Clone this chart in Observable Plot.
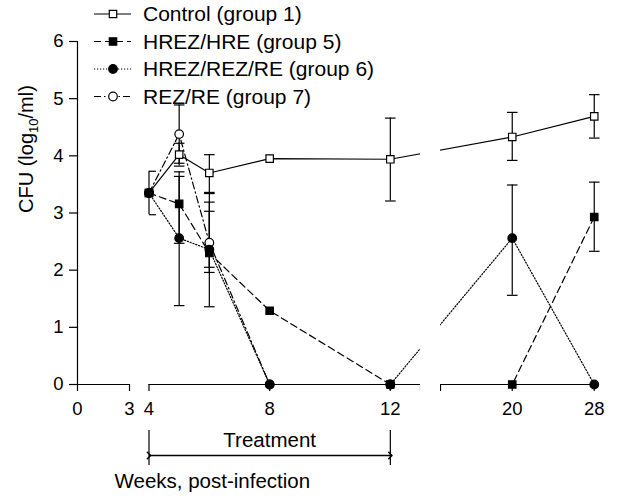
<!DOCTYPE html>
<html><head><meta charset="utf-8">
<script src="https://cdn.jsdelivr.net/npm/d3@7"></script>
<script src="https://cdn.jsdelivr.net/npm/@observablehq/plot@0.6"></script>
<style>
body{margin:0;background:#fff;}
#chart{position:relative;width:617px;height:503px;font-family:"Liberation Sans",Arial,Helvetica,sans-serif;}
#legend{position:absolute;left:0;top:0;}
</style></head><body><div id="chart"></div>
<script>
// ---- data ----
const weeks = [4, 5, 6, 8, 12, 20, 28];
const seriesNames = ["Control (group 1)", "HREZ/HRE (group 5)", "HREZ/REZ/RE (group 6)", "REZ/RE (group 7)"];
const controlMean = [3.35, 4.02, 3.70, 3.95, 3.94, 4.33, 4.69];
const controlLow  = [2.97, 3.82, 3.34, null, 3.21, 3.92, 4.31];
const controlHigh = [3.73, 4.22, 4.02, null, 4.66, 4.76, 5.07];
const group5Mean = [3.35, 3.16, 2.30, 1.29, 0, 0, 2.93];
const group5Low  = [null, 2.47, 2.05, null, null, null, 2.33];
const group5High = [null, 3.64, 3.19, null, null, null, 3.54];
const group6Mean = [3.35, 2.56, 2.36, 0, 0, 2.56, 0];
const group6Low  = [null, 1.38, 1.36, null, null, 1.56, null];
const group6High = [null, 3.72, 3.36, null, null, 3.49, null];
const group7Mean = [3.35, 4.38, 2.48, 0, 0];
const group7Low  = [null, 3.87, 1.96, null, null];
const group7High = [null, 4.89, 3.03, null, null];
const xTickWeeks = [0, 3, 4, 8, 12, 20, 28];
const yTicks = [0, 1, 2, 3, 4, 5, 6];
const treatment = [{start: 4, end: 12, label: "Treatment"}];
const xTitle = "Weeks, post-infection";
const yTitle = ["CFU (log", "10", "/ml)"];

// ---- broken x axis (weeks -> axis units) ----
const breakWeeks = [0, 3, 4, 13, 13.001, 29];
const breakUnits = [0, 52, 71.5, 343, 363, 527];
const bx = d3.scaleLinear().domain(breakWeeks).range(breakUnits);
const axisSegments = [[0, 3], [4, 13], [13.001, 28]];
const gap = [13, 13.001];

// ---- styles ----
const FONT = '"Liberation Sans", Arial, Helvetica, sans-serif';
const series = [
  {name: seriesNames[0], mean: controlMean, low: controlLow, high: controlHigh, dash: null, symbol: "square", fill: "white"},
  {name: seriesNames[1], mean: group5Mean, low: group5Low, high: group5High, dash: "7,4", symbol: "square", fill: "black"},
  {name: seriesNames[2], mean: group6Mean, low: group6Low, high: group6High, dash: "1.2,1.8", symbol: "circle", fill: "black"},
  {name: seriesNames[3], mean: group7Mean, low: group7Low, high: group7High, dash: "7,3,1.5,3", symbol: "circle", fill: "white"}
];
const markerOrder = [0, 3, 1, 2];

const rows = [];
series.forEach((s, si) => s.mean.forEach((v, i) => rows.push({si, week: weeks[i], x: bx(weeks[i]), y: v, lo: s.low[i], hi: s.high[i]})));
const errRows = rows.filter(d => d.lo != null);

const capSymbol = {draw(ctx, size) { const w = Math.sqrt(size / Math.PI); ctx.moveTo(-w, 0); ctx.lineTo(w, 0); }};
const halfCapSymbol = {draw(ctx, size) { const w = Math.sqrt(size / Math.PI); ctx.moveTo(0, 0); ctx.lineTo(w, 0); }};
const caps = errRows.flatMap(d => [{x: d.x, y: d.lo, week: d.week}, {x: d.x, y: d.hi, week: d.week}]);

const labelAt = new Map(xTickWeeks.map(w => [bx(w), String(w)]));

const marks = [
  Plot.ruleY(axisSegments, {x1: d => bx(d[0]), x2: d => bx(d[1]), y: 0, stroke: "black", strokeWidth: 1.2}),
  Plot.ruleX([0], {x: d => bx(d), y1: 0, y2: 6, stroke: "black", strokeWidth: 1.2}),
  Plot.axisY({ticks: yTicks, tickFormat: d3.format("d"), tickSize: 8, tickPadding: 6, label: null, strokeWidth: 1.2}),
  Plot.axisX({ticks: xTickWeeks.map(bx).concat(gap.map(bx)), tickFormat: v => labelAt.get(v) ?? "", tickSize: 7, tickPadding: 10, label: null, strokeWidth: 1.2}),
  Plot.ruleX(errRows, {x: "x", y1: "lo", y2: "hi", stroke: "black", strokeWidth: 1.2}),
  Plot.dot(caps.filter(d => d.week !== 4), {x: "x", y: "y", r: 5.3, symbol: capSymbol, fill: "none", stroke: "black", strokeWidth: 1.2}),
  Plot.dot(caps.filter(d => d.week === 4), {x: "x", y: "y", r: 7, symbol: halfCapSymbol, fill: "none", stroke: "black", strokeWidth: 1.2}),
  ...series.map((s, si) => Plot.line(rows.filter(d => d.si === si), {x: "x", y: "y", stroke: "black", strokeWidth: 1.2, strokeDasharray: s.dash})),
  Plot.rect([gap], {x1: d => bx(d[0]), x2: d => bx(d[1]), y1: 0, y2: 4.35, insetBottom: -9, fill: "white"}),
  ...markerOrder.map(si => Plot.dot(rows.filter(d => d.si === si), {x: "x", y: "y", r: series[si].symbol === "square" ? 4.2 : 4.3, symbol: series[si].symbol, fill: series[si].fill, stroke: "black", strokeWidth: 1.2})),
  Plot.ruleX(treatment.flatMap(t => [t.start, t.end]), {x: d => bx(d), insetTop: 389, insetBottom: -81, stroke: "black", strokeWidth: 1.2}),
  Plot.link(treatment, {x1: d => bx(d.start), x2: d => bx(d.end), y1: 0, y2: 0, dy: 71, stroke: "black", strokeWidth: 1.6, markerStart: "arrow", markerEnd: "arrow"}),
  Plot.text(treatment, {x: d => bx((d.start + d.end) / 2), y: 0, dy: 56, text: "label", fontSize: 20.5, fill: "black"}),
  Plot.text([xTitle], {frameAnchor: "bottom-left", dx: 37, dy: 103, text: d => d, textAnchor: "start", fontSize: 20.5, fill: "black"}),
  Plot.text([yTitle.join("")], {frameAnchor: "left", dx: -51, rotate: -90, text: d => d, fontSize: 20, fill: "black"})
];

const chart = Plot.plot({
  width: 617, height: 503,
  marginLeft: 77, marginRight: 13, marginTop: 41, marginBottom: 119,
  x: {domain: [0, 527]},
  y: {domain: [0, 6]},
  style: {fontSize: "18.5px", fontFamily: FONT, color: "black", background: "white"},
  marks
});
document.getElementById("chart").appendChild(chart);

// subscript in y label
d3.select(chart).selectAll("text").filter(function() { return this.textContent === yTitle.join(""); }).each(function() {
  const t = d3.select(this);
  t.text(null);
  t.append("tspan").text(yTitle[0]);
  t.append("tspan").attr("font-size", 13).attr("dy", 5).text(yTitle[1]);
  t.append("tspan").attr("dy", -5).text(yTitle[2]);
});

// legend
const lg = d3.select("#chart").append("svg").attr("id", "legend").attr("width", 420).attr("height", 110);
series.forEach((s, i) => {
  const y = 14 + i * 27.5;
  lg.append("line").attr("x1", 94).attr("x2", 131).attr("y1", y).attr("y2", y)
    .attr("stroke", "black").attr("stroke-width", 1.2).attr("stroke-dasharray", s.dash);
  const r = s.symbol === "square" ? 4.2 : 4.3;
  lg.append("path").attr("transform", `translate(113,${y})`)
    .attr("d", d3.symbol(s.symbol === "square" ? d3.symbolSquare : d3.symbolCircle, r * r * Math.PI)())
    .attr("fill", s.fill).attr("stroke", "black").attr("stroke-width", 1.2);
  lg.append("text").attr("x", 143).attr("y", y).attr("dy", "0.35em")
    .attr("font-size", 21).attr("font-family", FONT).text(s.name);
});
</script></body></html>
